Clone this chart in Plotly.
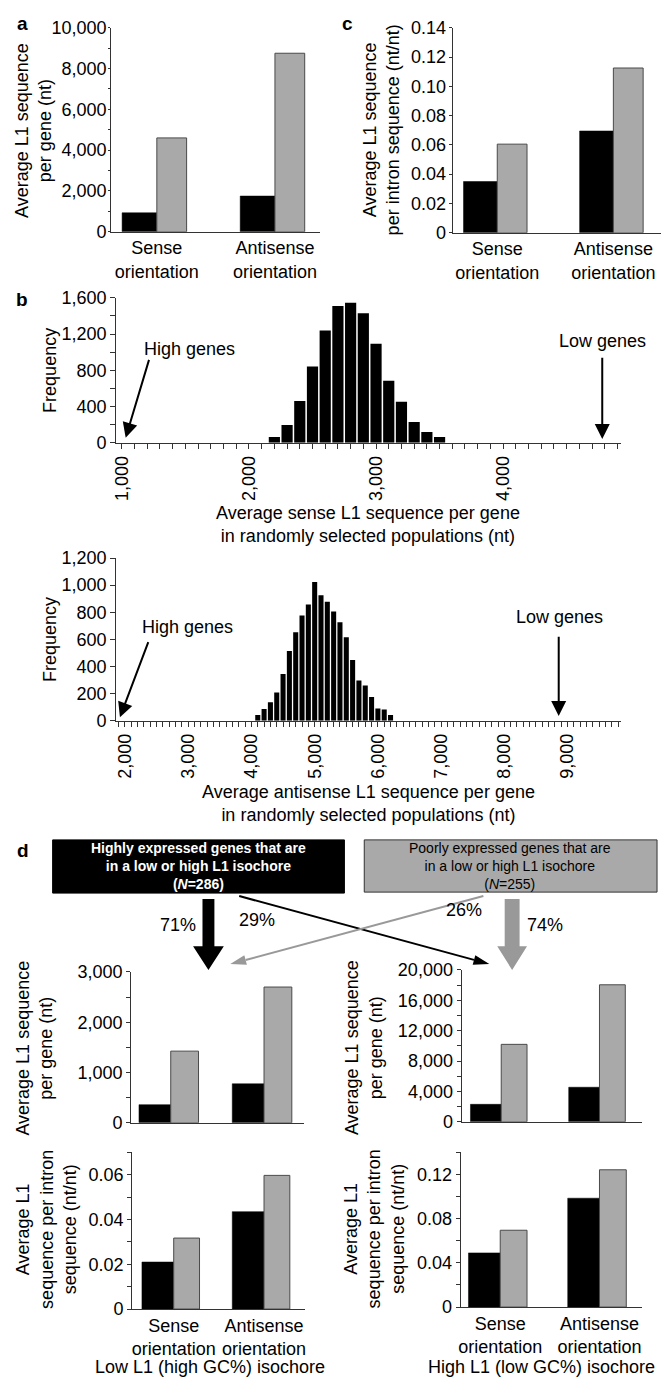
import math
import plotly.graph_objects as go

W, H = 663, 1390
FONT = "Liberation Sans, Arial, sans-serif"
BLACK = "#000000"
GRAY = "#a9a9a9"
GRAY_EDGE = "#4a4a4a"
AXIS = "#333333"

# ------------------------------------------------------------------ data
orientations = ["Sense<br>orientation", "Antisense<br>orientation"]

# panel a: average L1 sequence per gene (nt), highly vs poorly expressed genes
a_high = [930, 1750]
a_low = [4600, 8750]
# panel c: average L1 sequence per intron sequence (nt/nt)
c_high = [0.035, 0.0695]
c_low = [0.0605, 0.1125]
c_ticks = [0, 0.02, 0.04, 0.06, 0.08, 0.10, 0.12, 0.14]
c_ticktext = ["0", "0.02", "0.04", "0.06", "0.08", "0.10", "0.12", "0.14"]

# panel b: frequency of average L1 per gene in randomly selected populations
sense_bins = [2200, 2300, 2400, 2500, 2600, 2700, 2800, 2900, 3000, 3100,
              3200, 3300, 3400, 3500]
sense_freq = [62, 195, 460, 840, 1238, 1510, 1546, 1430, 1093, 684, 452,
              228, 119, 62]
antisense_bins = [4100, 4200, 4300, 4400, 4500, 4600, 4700, 4800, 4900, 5000,
                  5100, 5200, 5300, 5400, 5500, 5600, 5700, 5800, 5900, 6000,
                  6100, 6200]
antisense_freq = [41, 85, 136, 208, 344, 514, 652, 776, 856, 1023, 926, 878,
                  805, 725, 616, 448, 296, 259, 175, 90, 82, 41]
sense_high_genes = 1030
sense_low_genes = 4780
antisense_high_genes = 1920
antisense_low_genes = 8860

# panel d
high_group_N = 286
low_group_N = 255
pct_high_to_low_l1 = "71%"
pct_high_to_high_l1 = "29%"
pct_low_to_low_l1 = "26%"
pct_low_to_high_l1 = "74%"
d_lowL1_gene_high = [360, 775]
d_lowL1_gene_low = [1425, 2700]
d_highL1_gene_high = [2300, 4550]
d_highL1_gene_low = [10200, 18050]
d_lowL1_intron_high = [0.021, 0.0435]
d_lowL1_intron_low = [0.0317, 0.0597]
d_highL1_intron_high = [0.049, 0.0985]
d_highL1_intron_low = [0.0695, 0.1242]
d_lowL1_ticks = [0, 0.02, 0.04, 0.06]
d_lowL1_ticktext = ["0", "0.02", "0.04", "0.06"]
d_highL1_ticks = [0, 0.04, 0.08, 0.12]
d_highL1_ticktext = ["0", "0.04", "0.08", "0.12"]

# ------------------------------------------------------------------ helpers
def px(x):
    return x / W


def py(y):
    return 1 - y / H


fig = go.Figure()
layout = {}


def sfx(i):
    return "" if i == 1 else str(i)


def make_axes(i, x0, x1, ytop, ybot, xrange, yrange, xextra=None, yextra=None):
    xa = dict(domain=[px(x0), px(x1)], anchor="y" + sfx(i), range=xrange,
              showline=True, linecolor=AXIS, linewidth=1, ticks="",
              showgrid=False, zeroline=False, fixedrange=True,
              tickfont=dict(size=18, family=FONT, color="black"))
    ya = dict(domain=[py(ybot), py(ytop)], anchor="x" + sfx(i), range=yrange,
              showline=True, linecolor=AXIS, linewidth=1, ticks="outside",
              ticklen=4, tickcolor=AXIS, showgrid=False, zeroline=False,
              fixedrange=True, tickfont=dict(size=18, family=FONT, color="black"))
    if xextra:
        xa.update(xextra)
    if yextra:
        ya.update(yextra)
    layout["xaxis" + sfx(i)] = xa
    layout["yaxis" + sfx(i)] = ya


def bar_pair(i, high, low, wb, wg):
    fig.add_trace(go.Bar(x=orientations, y=high, xaxis="x" + sfx(i), yaxis="y" + sfx(i),
                         width=wb, offset=-wb, showlegend=False,
                         marker=dict(color=BLACK, line=dict(color=BLACK, width=0.5))))
    fig.add_trace(go.Bar(x=orientations, y=low, xaxis="x" + sfx(i), yaxis="y" + sfx(i),
                         width=wg, offset=0, showlegend=False,
                         marker=dict(color=GRAY, line=dict(color=GRAY_EDGE, width=1))))


def xr(x0, x1, s0, s1):
    u = s1 - s0
    return [(x0 - s0) / u, 1 + (x1 - s1) / u], u


annotations = []
shapes = []


def text(x, y, t, size=18, angle=0, color="black", bold=False):
    annotations.append(dict(xref="paper", yref="paper", x=px(x), y=py(y),
                            text=("<b>%s</b>" % t) if bold else t, showarrow=False,
                            textangle=angle, xanchor="center", yanchor="middle",
                            align="center",
                            font=dict(size=size, family=FONT, color=color)))


# ------------------------------------------------------------------ panel a
rng, u = xr(108, 318, 154, 273)
make_axes(1, 108, 318, 18, 225, rng, [0, 10000],
          yextra=dict(tick0=0, dtick=2000, tickformat=",", ticklen=2, ticklabelstandoff=-2,
                      minor=dict(dtick=1000, ticks="outside", ticklen=2, tickcolor=AXIS)))
bar_pair(1, a_high, a_low, 35 / u, 30 / u)
text(29, 122, "Average L1 sequence<br>per gene (nt)", angle=-90)
text(19, 14, "a", size=19, bold=True)

# ------------------------------------------------------------------ panel c
rng, u = xr(452, 662, 497, 614)
make_axes(2, 452, 662, 18, 226, rng, [0, 0.14],
          yextra=dict(tickmode="array", tickvals=c_ticks, ticktext=c_ticktext, ticklen=3,
                      ticklabelstandoff=-1))
bar_pair(2, c_high, c_low, 34 / u, 30 / u)
text(380, 122, "Average L1 sequence<br>per intron sequence (nt/nt)", angle=-90)
text(346, 14, "c", size=19, bold=True)

# ------------------------------------------------------------------ panel b
for i, bins, freq, xrng, yr, ytop, ybot, ydt, yminor, xtitle_y, bw in [
    (3, sense_bins, sense_freq, [955, 4930], [0, 1600], 292, 439, 400, 200, 522, 88),
    (4, antisense_bins, antisense_freq, [1860, 9850], [0, 1200], 556, 721, 200, None, 805, 80),
]:
    yex = dict(tick0=0, dtick=ydt, tickformat=",", ticklen=5)
    if yminor:
        yex["minor"] = dict(dtick=yminor, ticks="outside", ticklen=5, tickcolor=AXIS)
    make_axes(i, 113, 622, ytop, ybot, xrng, yr,
              xextra=dict(ticks="outside", ticklen=5, tickcolor=AXIS, tick0=0, dtick=1000,
                          tickformat=",", tickangle=-90,
                          minor=dict(dtick=100, ticks="outside", ticklen=5, tickcolor=AXIS)),
              yextra=yex)
    fig.add_trace(go.Bar(x=bins, y=freq, xaxis="x" + sfx(i), yaxis="y" + sfx(i),
                         width=bw, showlegend=False,
                         marker=dict(color=BLACK, line=dict(width=0))))
    text(47, (ytop + ybot) / 2, "Frequency", angle=-90)
    text(367, xtitle_y, ("Average %s L1 sequence per gene<br>in randomly selected populations (nt)"
                         % ("sense" if i == 3 else "antisense")))

text(18, 294, "b", size=19, bold=True)


def data_arrow(i, x, y, ax, ay):
    annotations.append(dict(xref="x" + sfx(i), yref="y" + sfx(i), axref="x" + sfx(i),
                            ayref="y" + sfx(i), x=x, y=y, ax=ax, ay=ay, text="",
                            showarrow=True, arrowhead=2, arrowsize=1.5, arrowwidth=2,
                            arrowcolor="black"))


def data_text(i, x, y, t):
    annotations.append(dict(xref="x" + sfx(i), yref="y" + sfx(i), x=x, y=y, text=t,
                            showarrow=False, xanchor="center", yanchor="middle",
                            font=dict(size=18, family=FONT, color="black")))


data_arrow(3, sense_high_genes, 54, 1217, 931)
data_text(3, 1535, 1040, "High genes")
data_arrow(3, sense_low_genes, 40, sense_low_genes, 955)
data_text(3, sense_low_genes, 1120, "Low genes")
data_arrow(4, antisense_high_genes, 24, 2377, 591)
data_text(4, 2990, 688, "High genes")
data_arrow(4, antisense_low_genes, 34, antisense_low_genes, 630)
data_text(4, antisense_low_genes + 10, 764, "Low genes")

# ------------------------------------------------------------------ panel d
text(19, 853, "d", size=19, bold=True)
shapes.append(dict(type="rect", xref="paper", yref="paper", x0=px(49), x1=px(343),
                   y0=py(896), y1=py(842), fillcolor="black", line=dict(color="black", width=1)))
shapes.append(dict(type="rect", xref="paper", yref="paper", x0=px(363), x1=px(658),
                   y0=py(895), y1=py(842), fillcolor=GRAY, line=dict(color="#333333", width=1)))
text(196, 869, ("<b>Highly expressed genes that are<br>in a low or high L1 isochore"
                "<br>(<i>N</i>=%d)</b>" % high_group_N), size=14, color="white")
text(510, 869, ("Poorly expressed genes that are<br>in a low or high L1 isochore"
                "<br>(<i>N</i>=%d)" % low_group_N), size=14, color="black")


def poly(pts, color):
    path = "M " + " L ".join("%f,%f" % (px(x), py(y)) for x, y in pts) + " Z"
    shapes.append(dict(type="path", xref="paper", yref="paper", path=path,
                       fillcolor=color, line=dict(width=0)))


def thin_arrow(x0, y0, x1, y1, color, head_len=16, head_w=10):
    dx, dy = x1 - x0, y1 - y0
    L = math.hypot(dx, dy)
    ux, uy = dx / L, dy / L
    bx, by = x1 - ux * head_len, y1 - uy * head_len
    shapes.append(dict(type="line", xref="paper", yref="paper", x0=px(x0), y0=py(y0),
                       x1=px(bx), y1=py(by), line=dict(color=color, width=2)))
    poly([(x1, y1), (bx - uy * head_w / 2, by + ux * head_w / 2),
          (bx + uy * head_w / 2, by - ux * head_w / 2)], color)


def thick_arrow(cx, ytop, ybase, ytip, shaft_w, head_w, color):
    poly([(cx - shaft_w / 2, ytop), (cx + shaft_w / 2, ytop), (cx + shaft_w / 2, ybase),
          (cx + head_w / 2, ybase), (cx, ytip), (cx - head_w / 2, ybase),
          (cx - shaft_w / 2, ybase)], color)


thick_arrow(206, 902, 950, 974, 12, 31, "black")
thick_arrow(512, 902, 950, 974, 15, 30, "#999999")
thin_arrow(237, 899, 489, 968, "black")
thin_arrow(483, 899, 228, 968, "#999999")
text(175, 928, pct_high_to_low_l1)
text(255, 923, pct_high_to_high_l1)
text(463, 913, pct_low_to_low_l1)
text(545, 928, pct_low_to_high_l1)

# upper left: low L1 isochore, per gene
rng, u = xr(128, 302, 168, 262)
make_axes(5, 128, 302, 976, 1129, rng, [0, 3000],
          xextra=dict(showticklabels=False),
          yextra=dict(tick0=0, dtick=1000, tickformat=",", ticklen=4,
                      minor=dict(dtick=500, ticks="outside", ticklen=4, tickcolor=AXIS)))
bar_pair(5, d_lowL1_gene_high, d_lowL1_gene_low, 32 / u, 28 / u)
text(31, 1053, "Average L1 sequence<br>per gene (nt)", angle=-90)

# upper right: high L1 isochore, per gene
rng, u = xr(461, 643, 501, 600)
make_axes(6, 461, 643, 974, 1128, rng, [0, 20000],
          xextra=dict(showticklabels=False),
          yextra=dict(tick0=0, dtick=4000, tickformat=",", ticklen=4,
                      minor=dict(dtick=2000, ticks="outside", ticklen=4, tickcolor=AXIS)))
bar_pair(6, d_highL1_gene_high, d_highL1_gene_low, 31 / u, 26 / u)
text(363, 1053, "Average L1 sequence<br>per gene (nt)", angle=-90)

# lower left: low L1 isochore, per intron
rng, u = xr(129, 303, 171, 262)
make_axes(7, 129, 303, 1159, 1318, rng, [0, 0.07],
          yextra=dict(tickmode="array", tickvals=d_lowL1_ticks, ticktext=d_lowL1_ticktext,
                      ticklen=4, minor=dict(tick0=0, dtick=0.01, ticks="outside", ticklen=4,
                                            tickcolor=AXIS)))
bar_pair(7, d_lowL1_intron_high, d_lowL1_intron_low, 32 / u, 26 / u)
text(43, 1237, "Average L1<br>sequence per intron<br>sequence (nt/nt)", angle=-90)
text(208, 1377, "Low L1 (high GC%) isochore")

# lower right: high L1 isochore, per intron
rng, u = xr(460, 643, 500, 600)
make_axes(8, 460, 643, 1159, 1316, rng, [0, 0.14],
          yextra=dict(tickmode="array", tickvals=d_highL1_ticks, ticktext=d_highL1_ticktext,
                      ticklen=4, minor=dict(tick0=0, dtick=0.02, ticks="outside", ticklen=4,
                                            tickcolor=AXIS)))
bar_pair(8, d_highL1_intron_high, d_highL1_intron_low, 32 / u, 27 / u)
text(373, 1237, "Average L1<br>sequence per intron<br>sequence (nt/nt)", angle=-90)
text(542, 1377, "High L1 (low GC%) isochore")

layout.update(dict(width=W, height=H, margin=dict(l=0, r=0, t=0, b=0),
                   paper_bgcolor="white", plot_bgcolor="white", barmode="overlay",
                   font=dict(family=FONT, size=18, color="black"),
                   annotations=annotations, shapes=shapes, showlegend=False))
fig.update_layout(**layout)
fig.write_html("out.html", config={"displayModeBar": False},
               post_script="document.body.style.margin='0px';"
                           "document.body.style.overflow='hidden';")
